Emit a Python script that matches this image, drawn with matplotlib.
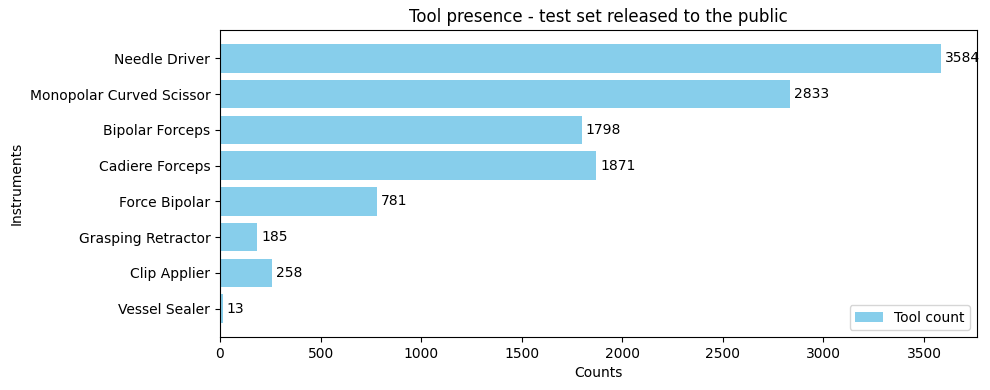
import matplotlib
matplotlib.use("Agg")
import matplotlib.pyplot as plt

instruments = ["Needle Driver", "Monopolar Curved Scissor", "Bipolar Forceps",
               "Cadiere Forceps", "Force Bipolar", "Grasping Retractor",
               "Clip Applier", "Vessel Sealer"]
counts = [3584, 2833, 1798, 1871, 781, 185, 258, 13]

fig, ax = plt.subplots(figsize=(9.9, 3.9), dpi=100)
bars = ax.barh(instruments[::-1], counts[::-1], color="skyblue", label="Tool count")
ax.bar_label(bars, padding=3)
ax.set_xlabel("Counts")
ax.set_ylabel("Instruments")
ax.set_title("Tool presence - test set released to the public")
ax.legend(loc="lower right")
fig.subplots_adjust(left=220/990, right=977/990, top=1-30/390, bottom=1-337/390)
fig.savefig("out.png")
